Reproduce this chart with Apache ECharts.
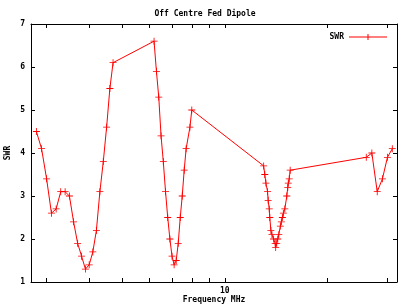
<!DOCTYPE html>
<html>
<head>
<meta charset="utf-8">
<script src="https://cdn.jsdelivr.net/npm/echarts@6/dist/echarts.min.js"></script>
<style>
html,body{margin:0;padding:0;background:#fff;}
#chart{width:410px;height:307px;}
</style>
</head>
<body>
<div id="chart"></div>
<script>
var freqMHz = [2.8,2.9,3.0,3.1,3.2,3.3,3.4,3.5,3.6,3.7,3.8,3.9,4.0,4.1,4.2,4.3,4.4,4.5,4.6,4.7,
  6.2,6.3,6.4,6.5,6.6,6.7,6.8,6.9,7.0,7.1,7.2,7.3,7.4,7.5,7.6,7.7,7.9,8.0,
  13.0,13.1,13.2,13.35,13.4,13.5,13.55,13.65,13.75,13.9,14.05,14.1,14.2,14.3,14.4,14.55,14.65,14.75,14.85,15.0,15.2,15.3,15.35,15.45,15.55,
  26,27,28,29,30,31];
var swr = [4.5,4.1,3.4,2.6,2.7,3.1,3.1,3.0,2.4,1.9,1.6,1.3,1.4,1.7,2.2,3.1,3.8,4.6,5.5,6.1,
  6.6,5.9,5.3,4.4,3.8,3.1,2.5,2.0,1.6,1.4,1.5,1.9,2.5,3.0,3.6,4.1,4.6,5.0,
  3.7,3.5,3.3,3.1,2.9,2.7,2.5,2.2,2.1,2.0,1.9,1.8,1.9,2.0,2.1,2.3,2.4,2.5,2.6,2.7,3.0,3.2,3.3,3.4,3.6,
  3.9,4.0,3.1,3.4,3.9,4.1];
var xTickValues = [3,4,5,6,7,8,9,10,20,30];
var xLabelValues = [10];
var seriesName = 'SWR';
var titleText = 'Off Centre Fed Dipole';
var xTitle = 'Frequency MHz';
var yTitle = 'SWR';

var FONT = 'DejaVu Sans Mono';
var txt = {fontFamily: FONT, fontWeight: 'bold', fontSize: 8, color: '#000'};
var plus = 'path://M4.4,0h1.2v10h-1.2zM0,4.4h10v1.2h-10z';
var legendIcon = 'path://M0,2.5h38v1h-38zM18.5,0h1v6h-1z';

var chart = echarts.init(document.getElementById('chart'), null, {renderer: 'canvas'});
var xBase = {
  type: 'log', logBase: 10, min: 2.7, max: 32,
  axisLine: {show: true, lineStyle: {color: '#000', width: 1}},
  splitLine: {show: false},
  axisTick: {show: true, inside: true, length: 4, lineStyle: {color: '#000'}, customValues: xTickValues},
  minorTick: {show: false}
};
var yBase = {
  type: 'value', min: 1, max: 7, interval: 1,
  axisLine: {show: true, lineStyle: {color: '#000', width: 1}},
  splitLine: {show: false},
  axisTick: {show: true, inside: true, length: 4, lineStyle: {color: '#000'}}
};
chart.setOption({
  animation: false,
  backgroundColor: '#fff',
  title: {text: titleText, left: 'center', top: 5, textStyle: Object.assign({}, txt)},
  legend: {
    right: 18, top: 28, align: 'right', itemWidth: 38, itemHeight: 6, itemGap: 5,
    textStyle: Object.assign({}, txt),
    data: [{name: seriesName, icon: legendIcon, itemStyle: {color: '#ff0000'}}]
  },
  grid: {left: 31, right: 13, top: 24, bottom: 25, containLabel: false, outerBoundsMode: 'none'},
  xAxis: [
    Object.assign({}, xBase, {
      position: 'bottom', name: xTitle, nameLocation: 'middle', nameGap: 14, nameMoveOverlap: false,
      nameTextStyle: Object.assign({}, txt),
      axisLabel: Object.assign({}, txt, {show: true, margin: 5, customValues: xLabelValues, formatter: function(v){return String(Math.round(v));}})
    }),
    Object.assign({}, xBase, {position: 'top', axisLabel: {show: false}})
  ],
  yAxis: [
    Object.assign({}, yBase, {
      position: 'left', name: yTitle, nameLocation: 'middle', nameGap: 19, nameRotate: 90, nameMoveOverlap: false,
      nameTextStyle: Object.assign({}, txt),
      axisLabel: Object.assign({}, txt, {margin: 6})
    }),
    Object.assign({}, yBase, {position: 'right', axisLabel: {show: false}})
  ],
  series: [{
    name: seriesName, type: 'line', xAxisIndex: 0, yAxisIndex: 0,
    data: freqMHz.map(function(f, i){ return [f, swr[i]]; }),
    symbol: plus, symbolSize: 7, showSymbol: true,
    lineStyle: {color: '#ff0000', width: 1},
    itemStyle: {color: '#ff0000', borderWidth: 0},
    emphasis: {disabled: true}
  }]
});
</script>
</body>
</html>
